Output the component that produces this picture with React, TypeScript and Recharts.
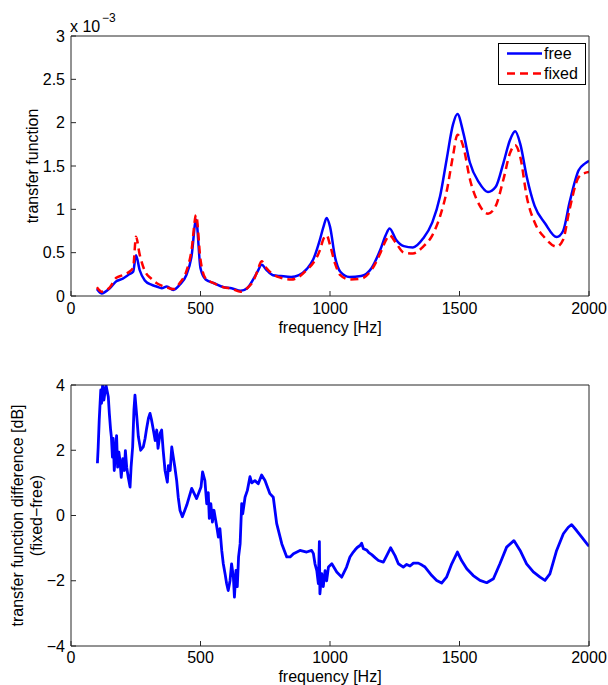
import { Label, Legend, Line, LineChart, XAxis, YAxis } from "recharts";

// top panel: transfer function (x 10^-3)
const freq = [
  100, 118, 150, 175, 200, 225, 240, 251, 265, 285,
  310, 330, 350, 370, 395, 420, 445, 465, 483, 500,
  520, 550, 590, 620, 655, 680, 705, 720, 736, 755,
  780, 810, 850, 880, 910, 935, 960, 975, 987, 1000,
  1020, 1040, 1075, 1120, 1160, 1195, 1215, 1230, 1255, 1285,
  1320, 1360, 1395, 1425, 1450, 1475, 1492, 1515, 1540, 1575,
  1610, 1640, 1670, 1695, 1715, 1735, 1760, 1790, 1830, 1875,
  1900, 1925, 1960, 1985, 2000,
];
const free = [
  0.08, 0.03, 0.09, 0.17, 0.2, 0.25, 0.28, 0.47, 0.3, 0.18,
  0.13, 0.11, 0.09, 0.11, 0.07, 0.13, 0.24, 0.45, 0.88, 0.32,
  0.19, 0.15, 0.1, 0.09, 0.06, 0.09, 0.2, 0.28, 0.36, 0.3,
  0.24, 0.23, 0.22, 0.24, 0.31, 0.42, 0.64, 0.8, 0.9, 0.8,
  0.44, 0.28, 0.22, 0.23, 0.32, 0.54, 0.7, 0.78, 0.65, 0.575,
  0.56, 0.665, 0.85, 1.15, 1.57, 1.98, 2.1, 1.88, 1.54, 1.31,
  1.2, 1.26, 1.54, 1.8, 1.9, 1.75, 1.37, 1.04, 0.84, 0.68,
  0.75, 1.08, 1.45, 1.53, 1.56,
];
const fixed = [
  0.1, 0.05, 0.1, 0.21, 0.24, 0.28, 0.33, 0.685, 0.48, 0.29,
  0.2, 0.15, 0.12, 0.1, 0.08, 0.15, 0.28, 0.52, 0.935, 0.42,
  0.2, 0.15, 0.1, 0.085, 0.05, 0.09, 0.18, 0.29, 0.4, 0.32,
  0.25, 0.21, 0.19, 0.22, 0.3, 0.38, 0.52, 0.66, 0.7, 0.59,
  0.37, 0.24, 0.19, 0.2, 0.3, 0.5, 0.64, 0.7, 0.61, 0.5,
  0.49, 0.57, 0.7, 0.92, 1.2, 1.62, 1.86, 1.72, 1.35, 1.06,
  0.95, 1.04, 1.35, 1.65, 1.74, 1.6, 1.14, 0.85, 0.67, 0.57,
  0.65, 1.0, 1.37, 1.42, 1.43,
];
const seriesNames = ["free", "fixed"];

// bottom panel: difference fixed-free in dB
const diffFreq = [
  102, 105, 109, 115, 118, 122, 127, 135, 144, 148,
  153, 156, 160, 163, 167, 172, 176, 180, 185, 189,
  194, 200, 206, 210, 215, 221, 228, 232, 238, 243,
  247, 254, 260, 269, 279, 286, 292, 299, 305, 311,
  318, 325, 331, 336, 344, 350, 356, 363, 372, 376,
  383, 389, 395, 401, 408, 414, 421, 430, 447, 466,
  485, 502, 508, 517, 524, 530, 534, 540, 546, 552,
  563, 569, 575, 582, 588, 595, 601, 607, 614, 620,
  627, 631, 637, 642, 647, 653, 659, 663, 672, 681,
  691, 698, 710, 723, 736, 749, 768, 781, 794, 814,
  833, 846, 859, 884, 910, 929, 936, 942, 949, 955,
  959, 961, 968, 974, 981, 987, 994, 1007, 1026, 1045,
  1064, 1077, 1090, 1097, 1105, 1116, 1122, 1129, 1142, 1150,
  1161, 1175, 1187, 1206, 1219, 1234, 1251, 1264, 1283, 1296,
  1309, 1322, 1341, 1355, 1367, 1393, 1412, 1431, 1450, 1470,
  1492, 1508, 1528, 1553, 1579, 1605, 1631, 1656, 1682, 1710,
  1734, 1759, 1785, 1811, 1830, 1849, 1875, 1901, 1920, 1933,
  1952, 1972, 1997, 2000,
];
const diffDb = [
  1.6, 2.1, 2.93, 3.85, 3.44, 4.0, 3.54, 4.0, 3.64, 3.13,
  2.62, 2.4, 1.79, 2.36, 1.38, 1.94, 2.45, 1.48, 1.94, 1.69,
  1.17, 1.74, 1.38, 1.99, 1.48, 1.17, 0.87, 1.48, 2.1, 3.23,
  3.69, 3.03, 2.42, 2.0, 2.1, 2.36, 2.67, 2.98, 3.13, 2.93,
  2.62, 2.3, 2.62, 2.06, 2.52, 2.62, 1.99, 1.38, 1.02, 1.53,
  1.38, 2.1, 1.79, 1.48, 1.07, 0.56, 0.15, -0.04, 0.32, 0.83,
  0.52, 0.87, 1.34, 1.07, 0.36, 0.7, -0.09, 0.36, -0.2, 0.16,
  -0.35, -0.66, -0.4, -1.07, -1.48, -1.79, -2.09, -2.3, -2.0, -1.48,
  -1.9, -2.5, -1.68, -2.18, -1.27, -0.87, 0.36, 0.05, 0.56, 0.77,
  1.19, 1.0, 1.07, 0.97, 1.24, 1.07, 0.67, 0.56, -0.24, -0.87,
  -1.27, -1.27, -1.17, -1.07, -1.12, -1.07, -1.17, -1.48, -1.69, -2.09,
  -0.8, -2.4, -1.78, -2.18, -1.69, -2.0, -1.58, -1.48, -1.73, -1.89,
  -1.58, -1.27, -1.12, -1.05, -0.98, -0.92, -0.85, -1.02, -1.06, -1.14,
  -1.2, -1.3, -1.38, -1.43, -1.23, -0.99, -1.23, -1.48, -1.58, -1.5,
  -1.55, -1.46, -1.46, -1.52, -1.58, -1.84, -1.99, -2.07, -1.89, -1.48,
  -1.12, -1.38, -1.63, -1.84, -1.99, -2.06, -1.94, -1.48, -0.97, -0.77,
  -1.07, -1.48, -1.73, -1.89, -1.99, -1.79, -1.07, -0.56, -0.36, -0.28,
  -0.46, -0.66, -0.92, -0.93,
];

const xTicks = [0, 500, 1000, 1500, 2000];
const topYTicks = [0, 0.5, 1, 1.5, 2, 2.5, 3];
const bottomYTicks = [-4, -2, 0, 2, 4];

const FONT = "'Liberation Sans', Arial, Helvetica, sans-serif";
const AXIS = "#262626";
const tickStyle = { fill: "#000", fontSize: 16, fontFamily: FONT };
const labelStyle = { fontSize: 16, fontFamily: FONT, fill: "#000" };
const lineStyles: Record<string, { color: string; dash?: string }> = {
  free: { color: "#0000ff" },
  fixed: { color: "#ff0000", dash: "8 5" },
};

const minus = (v: number) => (v < 0 ? `\u2212${-v}` : `${v}`);

function LegendBox({ payload }: any) {
  const items = seriesNames
    .map((n) => (payload || []).find((p: any) => p.dataKey === n || p.value === n))
    .filter(Boolean);
  return (
    <div
      style={{
        width: 88,
        height: 42,
        boxSizing: "border-box",
        border: "1px solid #000",
        background: "#fff",
      }}
    >
      <svg width={86} height={40} style={{ display: "block" }}>
        {items.map((p: any, i: number) => {
          const s = lineStyles[p.dataKey] || { color: p.color };
          const y = 9.5 + i * 20;
          return (
            <g key={p.value}>
              <line
                x1={8}
                x2={43}
                y1={y}
                y2={y}
                stroke={s.color}
                strokeWidth={2.5}
                strokeDasharray={s.dash}
              />
              <text x={45} y={y} dy="0.36em" fontSize={16} fontFamily={FONT} fill="#000">
                {p.value}
              </text>
            </g>
          );
        })}
      </svg>
    </div>
  );
}

export default function App() {
  const topRows = freq.map((f, i) => ({ f, free: free[i], fixed: fixed[i] }));
  const bottomRows = diffFreq.map((f, i) => ({ f, diff: diffDb[i] }));

  return (
    <div style={{ position: "absolute", left: 0, top: 0, width: 608, height: 685, fontFamily: FONT }}>
      <div style={{ position: "absolute", left: 0, top: 0 }}>
        <LineChart
          width={608}
          height={340}
          data={topRows}
          margin={{ top: 35, right: 18, bottom: 0, left: 0 }}
        >
          <XAxis
            dataKey="f"
            type="number"
            domain={[0, 2000]}
            ticks={xTicks}
            allowDataOverflow
            height={44}
            stroke={AXIS}
            tickSize={-5}
            tickMargin={12}
            tick={tickStyle}
          >
            <Label value="frequency [Hz]" position="insideBottom" offset={7} style={labelStyle} />
          </XAxis>
          <XAxis
            xAxisId="top"
            orientation="top"
            type="number"
            domain={[0, 2000]}
            ticks={xTicks}
            allowDataOverflow
            height={1}
            stroke={AXIS}
            tickSize={-5}
            tick={false}
          />
          <YAxis
            type="number"
            domain={[0, 3]}
            ticks={topYTicks}
            allowDataOverflow
            width={71}
            stroke={AXIS}
            tickSize={-5}
            tickMargin={11}
            tick={tickStyle}
          >
            <Label
              value="transfer function"
              angle={-90}
              position="insideLeft"
              offset={32}
              style={{ ...labelStyle, textAnchor: "middle" }}
            />
          </YAxis>
          <YAxis
            yAxisId="right"
            orientation="right"
            type="number"
            domain={[0, 3]}
            ticks={topYTicks}
            allowDataOverflow
            width={1}
            stroke={AXIS}
            tickSize={-5}
            tick={false}
          />
          <Legend
            layout="horizontal"
            verticalAlign="middle"
            align="center"
            content={<LegendBox />}
            wrapperStyle={{ position: "absolute", left: 498, top: 43, width: 88, height: 42 }}
          />
          <Line
            dataKey="free"
            name="free"
            type="monotone"
            stroke={lineStyles.free.color}
            strokeWidth={2.5}
            dot={false}
            isAnimationActive={false}
          />
          <Line
            dataKey="fixed"
            name="fixed"
            type="monotone"
            stroke={lineStyles.fixed.color}
            strokeDasharray={lineStyles.fixed.dash}
            strokeWidth={2.5}
            dot={false}
            isAnimationActive={false}
          />
        </LineChart>
      </div>

      <svg width={130} height={36} style={{ position: "absolute", left: 0, top: 0 }}>
        <text x={70} y={32} fontSize={16} fontFamily={FONT} fill="#000">
          x 10
        </text>
        <text x={102} y={22} fontSize={12} fontFamily={FONT} fill="#000">
          {"\u22123"}
        </text>
      </svg>

      <div style={{ position: "absolute", left: 0, top: 340 }}>
        <LineChart
          width={608}
          height={345}
          data={bottomRows}
          margin={{ top: 44, right: 18, bottom: 0, left: 0 }}
        >
          <XAxis
            dataKey="f"
            type="number"
            domain={[0, 2000]}
            ticks={xTicks}
            allowDataOverflow
            height={39}
            stroke={AXIS}
            tickSize={-5}
            tickMargin={11}
            tick={tickStyle}
          >
            <Label value="frequency [Hz]" position="insideBottom" offset={3} style={labelStyle} />
          </XAxis>
          <XAxis
            xAxisId="top"
            orientation="top"
            type="number"
            domain={[0, 2000]}
            ticks={xTicks}
            allowDataOverflow
            height={1}
            stroke={AXIS}
            tickSize={-5}
            tick={false}
          />
          <YAxis
            type="number"
            domain={[-4, 4]}
            ticks={bottomYTicks}
            allowDataOverflow
            width={71}
            stroke={AXIS}
            tickSize={-5}
            tickMargin={11}
            tick={tickStyle}
            tickFormatter={minus}
          >
            <Label
              value="transfer function difference [dB]"
              angle={-90}
              position="insideLeft"
              offset={17}
              style={{ ...labelStyle, textAnchor: "middle" }}
            />
            <Label
              value={"(fixed\u2212free)"}
              angle={-90}
              position="insideLeft"
              offset={36}
              style={{ ...labelStyle, textAnchor: "middle" }}
            />
          </YAxis>
          <YAxis
            yAxisId="right"
            orientation="right"
            type="number"
            domain={[-4, 4]}
            ticks={bottomYTicks}
            allowDataOverflow
            width={1}
            stroke={AXIS}
            tickSize={-5}
            tick={false}
          />
          <Line
            dataKey="diff"
            type="linear"
            stroke="#0000ff"
            strokeWidth={2.8}
            strokeLinejoin="round"
            dot={false}
            isAnimationActive={false}
          />
        </LineChart>
      </div>
    </div>
  );
}
